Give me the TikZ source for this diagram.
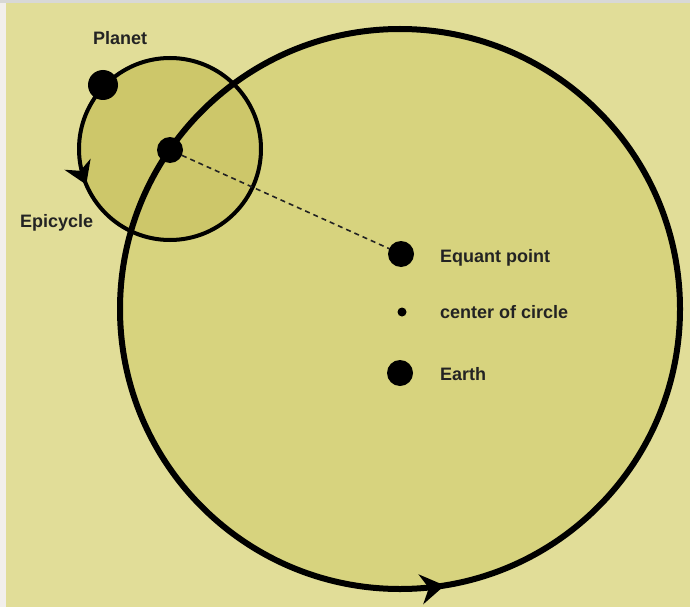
\documentclass[tikz,border=0pt]{standalone}
\usepackage{fontspec}
\setmainfont{Liberation Sans}
\usetikzlibrary{arrows.meta, positioning, decorations.markings}

\definecolor{paper}{RGB}{225,221,152}
\definecolor{deferentfill}{RGB}{215,211,126}
\definecolor{epifill}{RGB}{205,199,106}
\definecolor{leftedge}{RGB}{242,239,236}
\definecolor{topedge}{RGB}{216,216,214}
\definecolor{ink}{RGB}{35,35,35}

\begin{document}
\begin{tikzpicture}[
  x=1pt, y=-1pt,
  dot/.style={circle, fill=black, inner sep=0pt},
  lbl/.style={font=\fontsize{18}{21}\selectfont\bfseries, text=ink, anchor=base west, inner sep=0pt},
  dashline/.style={draw=ink, line width=1.6pt, dash pattern=on 5pt off 4pt},
  bigtip/.style={decoration={markings, mark=at position 0.2245 with {\arrowreversed{Stealth[length=24pt, width=30pt, inset=8pt]}}}, postaction=decorate},
  smalltip/.style={decoration={markings, mark=at position 0.436 with {\arrowreversed{Stealth[length=22pt, width=28pt, inset=7pt]}}}, postaction=decorate}
]
\useasboundingbox (0,0) rectangle (690,607);
\fill[paper] (0,0) rectangle (690,607);
\fill[leftedge] (0,0) rectangle (6,607);
\fill[topedge] (0,0) rectangle (690,3);

\coordinate (O) at (400,309);
\coordinate (C) at (170,149);

% discs
\fill[deferentfill] (O) circle[radius=280];
\fill[epifill] (C) circle[radius=91];

% epicycle and deferent
\draw[line width=4pt, smalltip] (C) circle[radius=91];
\draw[line width=6pt, bigtip] (O) circle[radius=280];

% points
\node[dot, minimum size=26pt] (equant) at (401,254) {};
\node[dot, minimum size=9pt] (centre) at (402,312) {};
\node[dot, minimum size=26pt] (earth) at (400,373) {};
\node[dot, minimum size=30pt] (planet) at (103,85) {};
\node[dot, minimum size=26pt] (epicentre) at (170,150) {};
\draw[dashline] (epicentre) -- (equant);

% labels
\node[lbl] (planetlbl) at (93,45) {Planet};
\node[lbl] (epilbl) at (20,227) {Epicycle};
\node[lbl] (equantlbl) at (440,262) {Equant point};
\node[lbl] (centrelbl) at (440,318) {center of circle};
\node[lbl] (earthlbl) at (440,380) {Earth};
\end{tikzpicture}
\end{document}
